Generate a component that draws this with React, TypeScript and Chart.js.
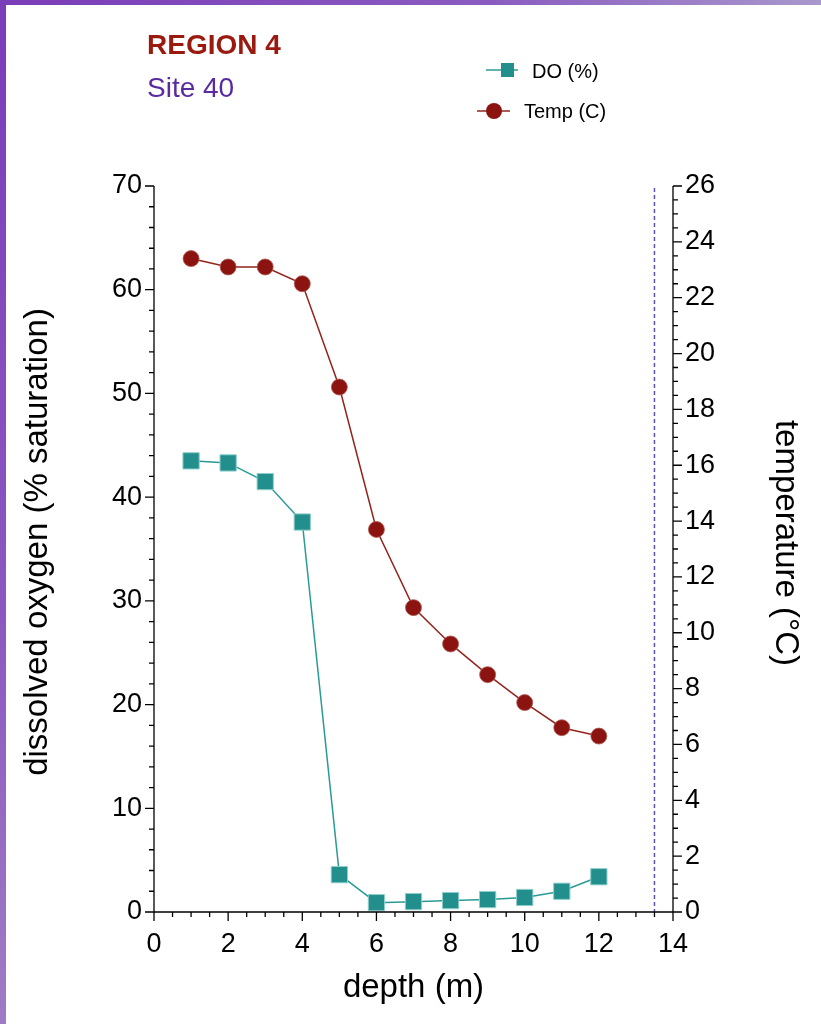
import React, { useEffect, useRef } from 'react';
import { Chart, registerables } from 'chart.js';

Chart.register(...registerables);

// ---- data ----
const depth = [1, 2, 3, 4, 5, 6, 7, 8, 9, 10, 11, 12];
const doValues = [43.5, 43.3, 41.5, 37.6, 3.6, 0.9, 1.0, 1.1, 1.2, 1.4, 2.0, 3.4];
const tempValues = [23.4, 23.1, 23.1, 22.5, 18.8, 13.7, 10.9, 9.6, 8.5, 7.5, 6.6, 6.3];

const xRange = [0, 14];
const xMajorStep = 2;
const xMinorStep = 0.5;
const doRange = [0, 70];
const doMajorStep = 10;
const doMinorStep = 2;
const tempRange = [0, 26];
const tempMajorStep = 2;
const tempMinorStep = 0.5;
const dashedLineDepth = 13.5;

const titleText = 'REGION 4';
const subtitleText = 'Site 40';
const doLabel = 'DO (%)';
const tempLabel = 'Temp (C)';
const xTitle = 'depth (m)';
const yLeftTitle = 'dissolved oxygen (% saturation)';
const yRightTitle = 'temperature (°C)';

const FONT = "'Liberation Sans', Arial, Helvetica, sans-serif";
const TEAL = '#238f8c';
const TEAL_LINE = '#2a9a96';
const RED = '#8c1410';
const RED_LINE = '#93241c';

const isMultiple = (v: number, step: number) => Math.abs(v / step - Math.round(v / step)) < 1e-6;

const decorPlugin = {
  id: 'decor',
  beforeDatasetsDraw(chart: any) {
    const { ctx, chartArea } = chart;
    const x = chart.scales.x;
    const px = x.getPixelForValue(dashedLineDepth);
    ctx.save();
    ctx.strokeStyle = '#5556b0';
    ctx.lineWidth = 1.5;
    ctx.setLineDash([4, 3]);
    ctx.beginPath();
    ctx.moveTo(px, chartArea.top + 2);
    ctx.lineTo(px, chartArea.bottom);
    ctx.stroke();
    ctx.restore();
  },
  afterDraw(chart: any) {
    const { ctx, chartArea } = chart;
    const { x, y, y1 } = chart.scales;
    ctx.save();
    ctx.strokeStyle = '#000';
    ctx.lineWidth = 1.3;
    // axis lines
    ctx.beginPath();
    ctx.moveTo(chartArea.left, chartArea.top);
    ctx.lineTo(chartArea.left, chartArea.bottom);
    ctx.lineTo(chartArea.right, chartArea.bottom);
    ctx.moveTo(chartArea.right, chartArea.top);
    ctx.lineTo(chartArea.right, chartArea.bottom);
    ctx.stroke();
    // ticks
    ctx.beginPath();
    for (let v = xRange[0]; v <= xRange[1] + 1e-9; v += xMinorStep) {
      const p = x.getPixelForValue(v);
      const len = isMultiple(v, xMajorStep) ? 9 : 5;
      ctx.moveTo(p, chartArea.bottom);
      ctx.lineTo(p, chartArea.bottom + len);
    }
    for (let v = doRange[0]; v <= doRange[1] + 1e-9; v += doMinorStep) {
      const p = y.getPixelForValue(v);
      const len = isMultiple(v, doMajorStep) ? 9 : 5;
      ctx.moveTo(chartArea.left, p);
      ctx.lineTo(chartArea.left - len, p);
    }
    for (let v = tempRange[0]; v <= tempRange[1] + 1e-9; v += tempMinorStep) {
      const p = y1.getPixelForValue(v);
      const len = isMultiple(v, tempMajorStep) ? 9 : 5;
      ctx.moveTo(chartArea.right, p);
      ctx.lineTo(chartArea.right + len, p);
    }
    ctx.stroke();

    // axis titles
    ctx.fillStyle = '#000';
    ctx.textAlign = 'center';
    ctx.textBaseline = 'middle';
    ctx.font = `33px ${FONT}`;
    ctx.fillText(xTitle, (chartArea.left + chartArea.right) / 2, 988);
    ctx.save();
    ctx.translate(38, 542);
    ctx.rotate(-Math.PI / 2);
    ctx.fillText(yLeftTitle, 0, 0);
    ctx.restore();
    ctx.save();
    ctx.translate(785, 543);
    ctx.rotate(Math.PI / 2);
    ctx.fillText(yRightTitle, 0, 0);
    ctx.restore();

    // titles
    ctx.textBaseline = 'middle';
    ctx.textAlign = 'left';
    ctx.fillStyle = '#9a1a10';
    ctx.font = `bold 28px ${FONT}`;
    ctx.fillText(titleText, 147, 46);
    ctx.fillStyle = '#5a2aa0';
    ctx.font = `28px ${FONT}`;
    ctx.fillText(subtitleText, 147, 89);

    // legend
    ctx.font = `20px ${FONT}`;
    ctx.strokeStyle = TEAL_LINE;
    ctx.lineWidth = 1.5;
    ctx.beginPath();
    ctx.moveTo(486, 70);
    ctx.lineTo(518, 70);
    ctx.stroke();
    ctx.fillStyle = TEAL;
    ctx.fillRect(501, 63, 13, 14);
    ctx.fillStyle = '#000';
    ctx.fillText(doLabel, 532, 72);
    ctx.strokeStyle = RED_LINE;
    ctx.beginPath();
    ctx.moveTo(477, 111);
    ctx.lineTo(510, 111);
    ctx.stroke();
    ctx.fillStyle = RED;
    ctx.beginPath();
    ctx.arc(494, 111, 8, 0, Math.PI * 2);
    ctx.fill();
    ctx.fillStyle = '#000';
    ctx.fillText(tempLabel, 524, 112);
    ctx.restore();
  },
};

export default function App() {
  const canvasRef = useRef<HTMLCanvasElement | null>(null);

  useEffect(() => {
    if (!canvasRef.current) return;
    const tickFont = { family: FONT, size: 27 };
    const chart = new Chart(canvasRef.current, {
      type: 'line',
      data: {
        datasets: [
          {
            label: doLabel,
            data: depth.map((d, i) => ({ x: d, y: doValues[i] })),
            yAxisID: 'y',
            borderColor: TEAL_LINE,
            backgroundColor: TEAL,
            borderWidth: 1.5,
            pointStyle: 'rect',
            pointRadius: 11.5,
            pointBorderColor: '#8fcfcc',
            pointBorderWidth: 1,
            pointBackgroundColor: TEAL,
            tension: 0,
          },
          {
            label: tempLabel,
            data: depth.map((d, i) => ({ x: d, y: tempValues[i] })),
            yAxisID: 'y1',
            borderColor: RED_LINE,
            backgroundColor: RED,
            borderWidth: 1.5,
            pointStyle: 'circle',
            pointRadius: 8,
            pointBorderColor: '#b05a55',
            pointBorderWidth: 0.8,
            pointBackgroundColor: RED,
            tension: 0,
          },
        ],
      },
      options: {
        animation: false,
        responsive: false,
        layout: { padding: { top: 186, left: 0, right: 0, bottom: 0 } },
        plugins: {
          legend: { display: false },
          tooltip: { enabled: false },
        },
        scales: {
          x: {
            type: 'linear',
            min: xRange[0],
            max: xRange[1],
            grid: { display: false, drawTicks: false },
            border: { display: false },
            ticks: { stepSize: xMajorStep, font: tickFont, color: '#000', padding: 16, maxRotation: 0 },
            afterFit: (s: any) => { s.height = 112; },
          },
          y: {
            type: 'linear',
            position: 'left',
            min: doRange[0],
            max: doRange[1],
            grid: { display: false, drawTicks: false },
            border: { display: false },
            ticks: { stepSize: doMajorStep, font: tickFont, color: '#000', padding: 12 },
            afterFit: (s: any) => { s.width = 154; },
          },
          y1: {
            type: 'linear',
            position: 'right',
            min: tempRange[0],
            max: tempRange[1],
            grid: { display: false, drawTicks: false },
            border: { display: false },
            ticks: { stepSize: tempMajorStep, font: tickFont, color: '#000', padding: 12 },
            afterFit: (s: any) => { s.width = 148; },
          },
        },
      },
      plugins: [decorPlugin],
    } as any);
    return () => chart.destroy();
  }, []);

  return (
    <div style={{ position: 'absolute', left: 0, top: 0, width: 821, height: 1024, background: '#fff', overflow: 'hidden' }}>
      <canvas ref={canvasRef} width={821} height={1024} style={{ display: 'block' }} />
      <div style={{ position: 'absolute', left: 0, top: 0, width: 821, height: 5, background: 'linear-gradient(to right, #7a3cb8, #8a5cc0 60%, #a898cc)' }} />
      <div style={{ position: 'absolute', left: 0, top: 0, width: 6, height: 1024, background: 'linear-gradient(to bottom, #7a3cb8, #8c58c0 60%, #a07cc4)' }} />
    </div>
  );
}
